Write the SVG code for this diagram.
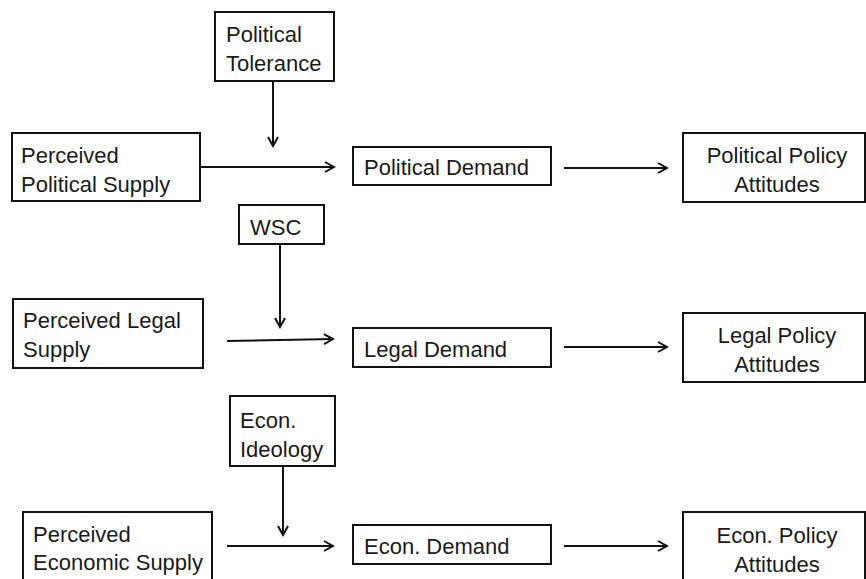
<svg xmlns="http://www.w3.org/2000/svg" width="866" height="579" viewBox="0 0 866 579">
  <style>
    .box { fill: #ffffff; stroke: #111111; stroke-width: 2; }
    .lbl { font-family: "Liberation Sans", Arial, sans-serif; font-size: 22px; fill: #1a1a1a; }
    .mid { text-anchor: middle; }
    .link { stroke: #111111; stroke-width: 2; fill: none; marker-end: url(#head); }
  </style>
  <defs>
    <marker id="head" markerUnits="userSpaceOnUse" markerWidth="12" markerHeight="12" refX="10" refY="6" orient="auto">
      <path d="M1,1 L10,6 L1,11" fill="none" stroke="#111111" stroke-width="2"/>
    </marker>
  </defs>
  <rect width="866" height="579" fill="#ffffff"/>

  <!-- political row -->
  <g id="political-tolerance">
    <rect class="box" x="215" y="12" width="119" height="69"/>
    <text class="lbl" x="226" y="42">Political</text>
    <text class="lbl" x="226" y="71">Tolerance</text>
  </g>
  <g id="perceived-political-supply">
    <rect class="box" x="12" y="133" width="188" height="68"/>
    <text class="lbl" x="21" y="163">Perceived</text>
    <text class="lbl" x="21" y="192">Political Supply</text>
  </g>
  <g id="political-demand">
    <rect class="box" x="353" y="147" width="198" height="38"/>
    <text class="lbl" x="364" y="175">Political Demand</text>
  </g>
  <g id="political-policy-attitudes">
    <rect class="box" x="683" y="133" width="182" height="69"/>
    <text class="lbl mid" x="777" y="163">Political Policy</text>
    <text class="lbl mid" x="777" y="192">Attitudes</text>
  </g>

  <!-- legal row -->
  <g id="wsc">
    <rect class="box" x="239" y="205" width="85" height="39"/>
    <text class="lbl" x="250" y="235">WSC</text>
  </g>
  <g id="perceived-legal-supply">
    <rect class="box" x="13" y="299" width="190" height="69"/>
    <text class="lbl" x="23" y="328">Perceived Legal</text>
    <text class="lbl" x="23" y="357">Supply</text>
  </g>
  <g id="legal-demand">
    <rect class="box" x="353" y="328" width="198" height="39"/>
    <text class="lbl" x="364" y="357">Legal Demand</text>
  </g>
  <g id="legal-policy-attitudes">
    <rect class="box" x="683" y="313" width="182" height="69"/>
    <text class="lbl mid" x="777" y="343">Legal Policy</text>
    <text class="lbl mid" x="777" y="372">Attitudes</text>
  </g>

  <!-- economic row -->
  <g id="econ-ideology">
    <rect class="box" x="230" y="396" width="105" height="70"/>
    <text class="lbl" x="240" y="428">Econ.</text>
    <text class="lbl" x="240" y="457">Ideology</text>
  </g>
  <g id="perceived-economic-supply">
    <rect class="box" x="23" y="512" width="189" height="80"/>
    <text class="lbl" x="33" y="542">Perceived</text>
    <text class="lbl" x="33" y="570">Economic Supply</text>
  </g>
  <g id="econ-demand">
    <rect class="box" x="353" y="525" width="198" height="39"/>
    <text class="lbl" x="364" y="554">Econ. Demand</text>
  </g>
  <g id="econ-policy-attitudes">
    <rect class="box" x="683" y="512" width="182" height="80"/>
    <text class="lbl mid" x="777" y="543">Econ. Policy</text>
    <text class="lbl mid" x="777" y="572">Attitudes</text>
  </g>

  <g id="connectors">
    <line class="link" x1="273" y1="81" x2="273" y2="146"/>
    <line class="link" x1="200" y1="167" x2="334" y2="167"/>
    <line class="link" x1="564" y1="168" x2="667" y2="168"/>
    <line class="link" x1="280" y1="244" x2="280" y2="327"/>
    <line class="link" x1="227" y1="341" x2="333" y2="339"/>
    <line class="link" x1="564" y1="347" x2="667" y2="347"/>
    <line class="link" x1="283" y1="466" x2="283" y2="535"/>
    <line class="link" x1="227" y1="546" x2="333" y2="546"/>
    <line class="link" x1="564" y1="546" x2="667" y2="546"/>
  </g>
</svg>
